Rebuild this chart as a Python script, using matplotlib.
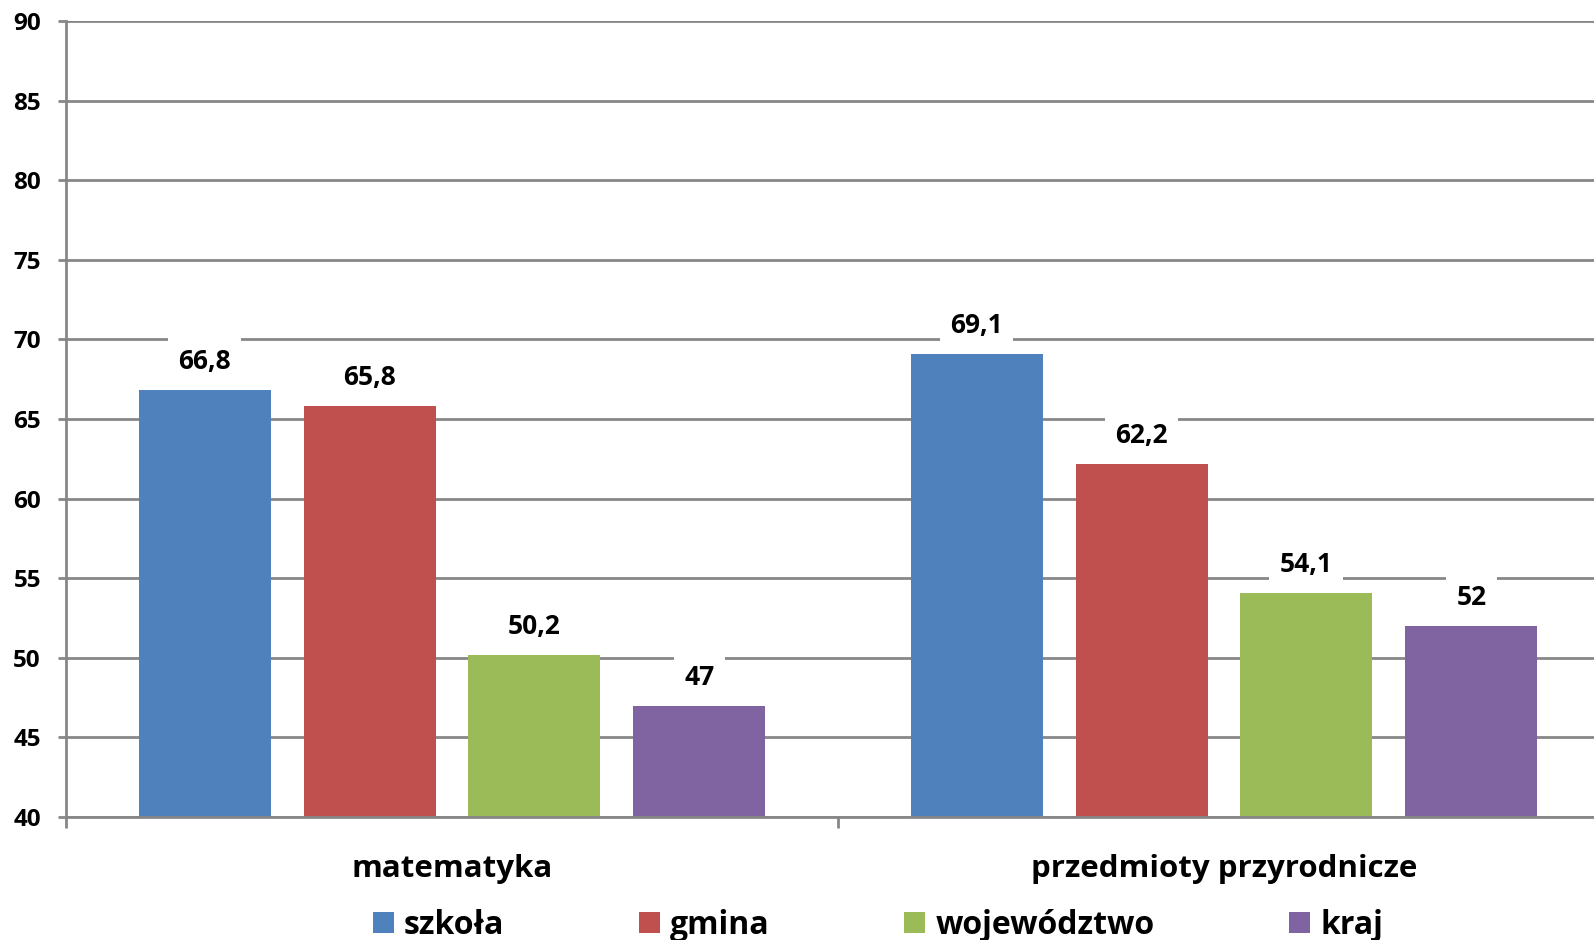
import matplotlib
matplotlib.use("Agg")
import matplotlib.pyplot as plt
import numpy as np
from matplotlib.patches import Patch

categories = ["matematyka", "przedmioty przyrodnicze"]
series_names = ["szkoła", "gmina", "województwo", "kraj"]
values = {
    "szkoła": [66.8, 69.1],
    "gmina": [65.8, 62.2],
    "województwo": [50.2, 54.1],
    "kraj": [47, 52],
}
labels = {
    "szkoła": ["66,8", "69,1"],
    "gmina": ["65,8", "62,2"],
    "województwo": ["50,2", "54,1"],
    "kraj": ["47", "52"],
}
colors = ["#4F81BD", "#C0504D", "#9BBB59", "#8064A2"]
yticks = [40, 45, 50, 55, 60, 65, 70, 75, 80, 85, 90]

plt.rcParams['font.family'] = ['Open Sans', 'DejaVu Sans']
plt.rcParams['font.weight'] = 'bold'

fig = plt.figure(figsize=(15.94, 9.40), dpi=100)
ax = fig.add_axes([66/1594, 123/940, (1610-66)/1594, 796/940])

x = np.arange(len(categories))
width = 0.171
step = 0.2137
offsets = (np.arange(len(series_names)) - 1.5) * step

grid_c = "#878787"
for i, name in enumerate(series_names):
    bars = ax.bar(x + offsets[i], values[name], width, bottom=0, color=colors[i], zorder=2)
    for j, b in enumerate(bars):
        ax.annotate(labels[name][j], (b.get_x() + b.get_width()/2, values[name][j]),
                    xytext=(0, 20.5), textcoords="offset points", ha="center", va="center",
                    fontsize=19, fontweight="bold", color="black", zorder=4,
                    bbox=dict(boxstyle="square,pad=0.4", fc="white", ec="none"))

ax.set_ylim(40, 90)
ax.set_xlim(-0.5, 1.5)
ax.set_yticks(yticks)
ax.set_yticklabels([str(v) for v in yticks], fontsize=17.5, fontweight="bold")
ax.yaxis.grid(True, color=grid_c, linewidth=2, zorder=0)
ax.set_axisbelow(True)

ax.set_xticks(x)
ax.set_xticklabels(categories, fontsize=22.5, fontweight="bold")
ax.set_xticks([-0.5, 0.5, 1.5], minor=True)
ax.tick_params(axis="x", which="major", length=0, pad=27)
ax.tick_params(axis="x", which="minor", length=8, width=2, color=grid_c)
ax.tick_params(axis="y", length=6, width=2, color=grid_c, pad=12)

for s in ["top", "right"]:
    ax.spines[s].set_visible(False)
for s in ["left", "bottom"]:
    ax.spines[s].set_color(grid_c)
    ax.spines[s].set_linewidth(2)

handles = [Patch(facecolor=c, edgecolor="none") for c in colors]
fig.legend(handles, series_names, loc="center", bbox_to_anchor=(878/1594, 15/940),
           ncol=4, frameon=False, prop={"size": 23, "weight": "bold"},
           handlelength=0.66, handleheight=0.66, handletextpad=0.31, columnspacing=4.22)

fig.savefig("out.png", dpi=100)
